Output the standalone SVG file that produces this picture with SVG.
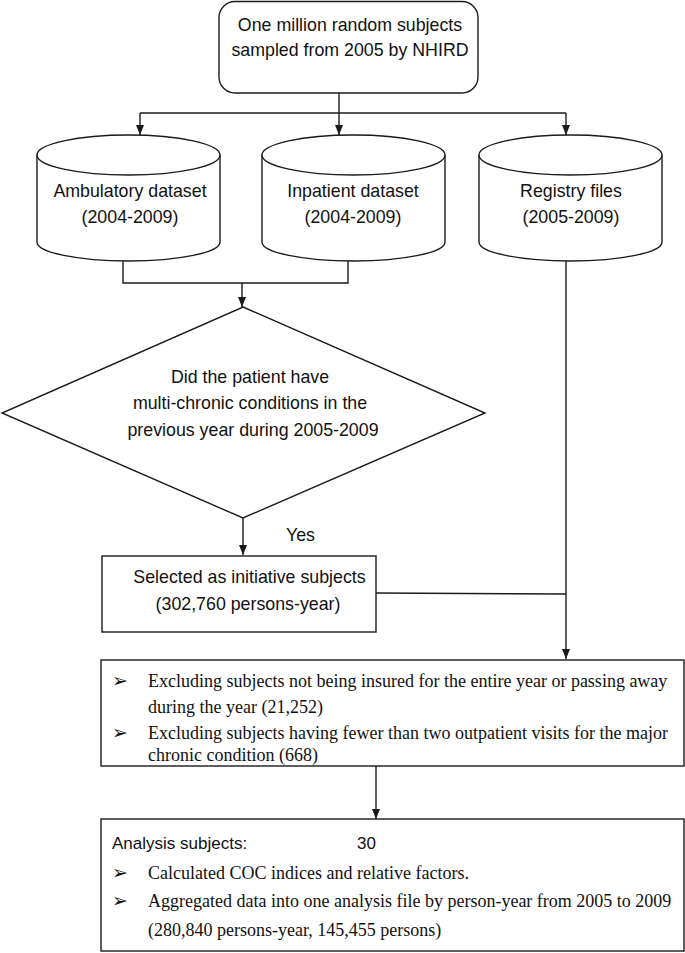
<svg xmlns="http://www.w3.org/2000/svg" width="685" height="953" viewBox="0 0 685 953">
<style>
.shape{fill:#fff;stroke:#1a1a1a;stroke-width:1.4}
.line{fill:none;stroke:#1a1a1a;stroke-width:1.4}
.sans{font-family:"Liberation Sans",Arial,sans-serif;font-size:17.8px;fill:#111}
.serif{font-family:"Liberation Serif","Times New Roman",serif;font-size:18px;fill:#111}
.bul{font-family:"DejaVu Sans",sans-serif;font-size:19px;fill:#111}
.c{text-anchor:middle}
</style>
<defs>
<marker id="arr" viewBox="0 0 10 8" refX="10" refY="4" markerWidth="10" markerHeight="8" markerUnits="userSpaceOnUse" orient="auto">
<path d="M0,0 L10,4 L0,8 z" fill="#1a1a1a"/>
</marker>
</defs>
<rect width="685" height="953" fill="#fff"/>

<g id="connectors">
<line class="line" x1="339" y1="93" x2="339" y2="135" marker-end="url(#arr)"/>
<line class="line" x1="140" y1="113" x2="566" y2="113"/>
<line class="line" x1="140" y1="113" x2="140" y2="135" marker-end="url(#arr)"/>
<line class="line" x1="566" y1="113" x2="566" y2="135" marker-end="url(#arr)"/>
<polyline class="line" points="123,260 123,283 348,283 348,260"/>
<line class="line" x1="242" y1="283" x2="242" y2="307" marker-end="url(#arr)"/>
<line class="line" x1="566" y1="260" x2="566" y2="659" marker-end="url(#arr)"/>
<line class="line" x1="243" y1="518" x2="243" y2="555" marker-end="url(#arr)"/>
<line class="line" x1="376" y1="593" x2="566" y2="594"/>
<line class="line" x1="376" y1="766" x2="376" y2="819" marker-end="url(#arr)"/>
<text class="sans" x="286" y="541">Yes</text>
</g>

<g id="source">
<rect class="shape" x="219" y="1.5" width="259" height="91.5" rx="16" ry="16"/>
<text class="sans c" x="350" y="31">One million random subjects</text>
<text class="sans c" x="350" y="56">sampled from 2005 by NHIRD</text>
</g>

<g id="ambulatory">
<path class="shape" d="M37,155 L37,242 A91.5,19 0 0 0 220,242 L220,155"/>
<ellipse class="shape" cx="128.5" cy="155" rx="91.5" ry="20"/>
<text class="sans c" x="130" y="197">Ambulatory dataset</text>
<text class="sans c" x="130" y="223">(2004-2009)</text>
</g>

<g id="inpatient">
<path class="shape" d="M262,155 L262,242 A91.5,19 0 0 0 445,242 L445,155"/>
<ellipse class="shape" cx="353.5" cy="155" rx="91.5" ry="20"/>
<text class="sans c" x="353" y="197">Inpatient dataset</text>
<text class="sans c" x="353" y="223">(2004-2009)</text>
</g>

<g id="registry">
<path class="shape" d="M479,155 L479,242 A91.5,19 0 0 0 662,242 L662,155"/>
<ellipse class="shape" cx="570.5" cy="155" rx="91.5" ry="20"/>
<text class="sans c" x="571" y="197">Registry files</text>
<text class="sans c" x="571" y="223">(2005-2009)</text>
</g>

<g id="decision">
<polygon class="shape" points="243,307 485,413 243,518 2,413"/>
<text class="sans c" x="250" y="383">Did the patient have</text>
<text class="sans c" x="250" y="409">multi-chronic conditions in the</text>
<text class="sans c" x="253" y="436">previous year during 2005-2009</text>
</g>

<g id="selected">
<rect class="shape" x="102" y="556" width="274" height="76"/>
<text class="sans c" x="249.5" y="583">Selected as initiative subjects</text>
<text class="sans c" x="248" y="610">(302,760 persons-year)</text>
</g>

<g id="exclusion">
<rect class="shape" x="101" y="660" width="583" height="106"/>
<text class="bul" x="112" y="687">➢</text>
<text class="serif" x="148" y="687">Excluding subjects not being insured for the entire year or passing away</text>
<text class="serif" x="148" y="713">during the year (21,252)</text>
<text class="bul" x="112" y="739">➢</text>
<text class="serif" x="148" y="739">Excluding subjects having fewer than two outpatient visits for the major</text>
<text class="serif" x="148" y="761">chronic condition (668)</text>
</g>

<g id="analysis">
<rect class="shape" x="101" y="819" width="583" height="132"/>
<text class="sans" x="112" y="849" style="font-size:17px">Analysis subjects:</text>
<text class="sans" x="357" y="849" style="font-size:17px">30</text>
<text class="bul" x="112" y="879">➢</text>
<text class="serif" x="148" y="879">Calculated COC indices and relative factors.</text>
<text class="bul" x="112" y="907">➢</text>
<text class="serif" x="148" y="907">Aggregated data into one analysis file by person-year from 2005 to 2009</text>
<text class="serif" x="148" y="936">(280,840 persons-year, 145,455 persons)</text>
</g>
</svg>
